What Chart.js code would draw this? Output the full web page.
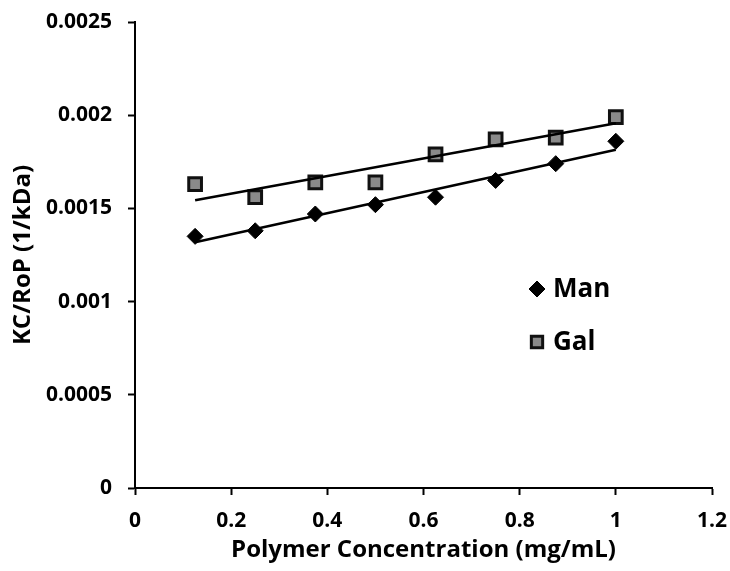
<!DOCTYPE html>
<html>
<head>
<meta charset="utf-8">
<script src="https://cdn.jsdelivr.net/npm/chart.js@4/dist/chart.umd.min.js"></script>
<style>
  html, body { margin: 0; padding: 0; background: #fff; }
  #wrap { width: 730px; height: 571px; position: relative; }
</style>
</head>
<body>
<div id="wrap"><canvas id="myChart"></canvas></div>
<script>
const concentration = [0.125, 0.25, 0.375, 0.5, 0.625, 0.75, 0.875, 1];
const manValues = [0.00135, 0.00138, 0.00147, 0.00152, 0.00156, 0.00165, 0.00174, 0.00186];
const galValues = [0.00163, 0.00156, 0.00164, 0.00164, 0.00179, 0.00187, 0.00188, 0.00199];

const xTickLabels = ["0", "0.2", "0.4", "0.6", "0.8", "1", "1.2"];
const yTickLabels = ["0", "0.0005", "0.001", "0.0015", "0.002", "0.0025"];

const FONT = "'Open Sans', 'DejaVu Sans', sans-serif";

// least squares line over the measured points, like a spreadsheet trendline
const fitLine = (xs, ys) => {
  const n = xs.length;
  const mx = xs.reduce((a, b) => a + b, 0) / n;
  const my = ys.reduce((a, b) => a + b, 0) / n;
  let sxy = 0, sxx = 0;
  xs.forEach((x, i) => {
    sxy += (x - mx) * (ys[i] - my);
    sxx += (x - mx) * (x - mx);
  });
  const slope = sxy / sxx;
  const x0 = xs[0], x1 = xs[n - 1];
  return [
    { x: x0, y: my + slope * (x0 - mx) },
    { x: x1, y: my + slope * (x1 - mx) }
  ];
};

const toPoints = (ys) => concentration.map((x, i) => ({ x: x, y: ys[i] }));

// legend drawn inside the plot, marker + name
const insideLegend = {
  id: "insideLegend",
  afterDraw(chart) {
    const ctx = chart.ctx;
    const items = [
      { ds: chart.data.datasets[0], x: 537, y: 289 },
      { ds: chart.data.datasets[1], x: 537, y: 342 }
    ];
    ctx.save();
    items.forEach((it) => {
      ctx.fillStyle = it.ds.pointBackgroundColor;
      ctx.strokeStyle = it.ds.pointBorderColor;
      ctx.lineWidth = it.ds.pointBorderWidth;
      Chart.helpers.drawPoint(ctx, {
        pointStyle: it.ds.pointStyle,
        radius: it.ds.legendRadius,
        rotation: 0,
        borderWidth: it.ds.pointBorderWidth
      }, it.x, it.y);
      ctx.fillStyle = "#000";
      ctx.font = "bold 26px " + FONT;
      ctx.textBaseline = "middle";
      ctx.textAlign = "left";
      ctx.fillText(it.ds.label, it.x + 16, it.y + 1);
    });
    ctx.restore();
  }
};

const ctx = document.getElementById("myChart");
const myChart = new Chart(ctx, {
  type: "scatter",
  data: {
    datasets: [
      {
        label: "Man",
        data: toPoints(manValues),
        pointStyle: "rectRot",
        pointRadius: 8,
        legendRadius: 8,
        pointBackgroundColor: "#000",
        pointBorderColor: "#000",
        pointBorderWidth: 1,
        showLine: false,
        order: 1
      },
      {
        label: "Gal",
        data: toPoints(galValues),
        pointStyle: "rect",
        pointRadius: 9,
        legendRadius: 8,
        pointBackgroundColor: "#8a8a8a",
        pointBorderColor: "#111",
        pointBorderWidth: 3,
        showLine: false,
        order: 1
      },
      {
        label: "Man fit",
        data: fitLine(concentration, manValues),
        showLine: true,
        borderColor: "#000",
        borderWidth: 2.5,
        pointRadius: 0,
        order: 0
      },
      {
        label: "Gal fit",
        data: fitLine(concentration, galValues),
        showLine: true,
        borderColor: "#000",
        borderWidth: 2.5,
        pointRadius: 0,
        order: 0
      }
    ]
  },
  options: {
    responsive: true,
    maintainAspectRatio: false,
    animation: false,
    layout: {
      padding: { top: 22, right: 18, left: 0, bottom: 0 }
    },
    plugins: {
      legend: { display: false },
      tooltip: { enabled: false }
    },
    scales: {
      x: {
        type: "linear",
        min: 0,
        max: 1.2,
        afterFit: (scale) => {
          scale.height = 83;
          scale.paddingLeft = 0;
          scale.paddingRight = 0;
        },
        border: { color: "#000", width: 2 },
        grid: {
          drawOnChartArea: false,
          drawTicks: true,
          tickLength: 7,
          tickWidth: 2,
          tickColor: "#000"
        },
        ticks: {
          stepSize: 0.2,
          padding: 13,
          color: "#000",
          font: { family: FONT, size: 21, weight: "bold" },
          callback: (value, index) => xTickLabels[index]
        },
        title: {
          display: true,
          text: "Polymer Concentration (mg/mL)",
          color: "#000",
          font: { family: FONT, size: 24, weight: "bold" },
          padding: { top: 0, bottom: 6 }
        }
      },
      y: {
        type: "linear",
        min: 0,
        max: 0.0025,
        afterFit: (scale) => {
          scale.width = 135;
          scale.paddingTop = 0;
          scale.paddingBottom = 0;
        },
        border: { color: "#000", width: 2 },
        grid: {
          drawOnChartArea: false,
          drawTicks: true,
          tickLength: 7,
          tickWidth: 2,
          tickColor: "#000"
        },
        ticks: {
          stepSize: 0.0005,
          padding: 16,
          color: "#000",
          font: { family: FONT, size: 21, weight: "bold" },
          callback: (value, index) => yTickLabels[index]
        },
        title: {
          display: true,
          text: "KC/RoP (1/kDa)",
          color: "#000",
          font: { family: FONT, size: 24, weight: "bold" },
          padding: { top: 9, bottom: 0 }
        }
      }
    }
  },
  plugins: [insideLegend]
});
</script>
</body>
</html>
